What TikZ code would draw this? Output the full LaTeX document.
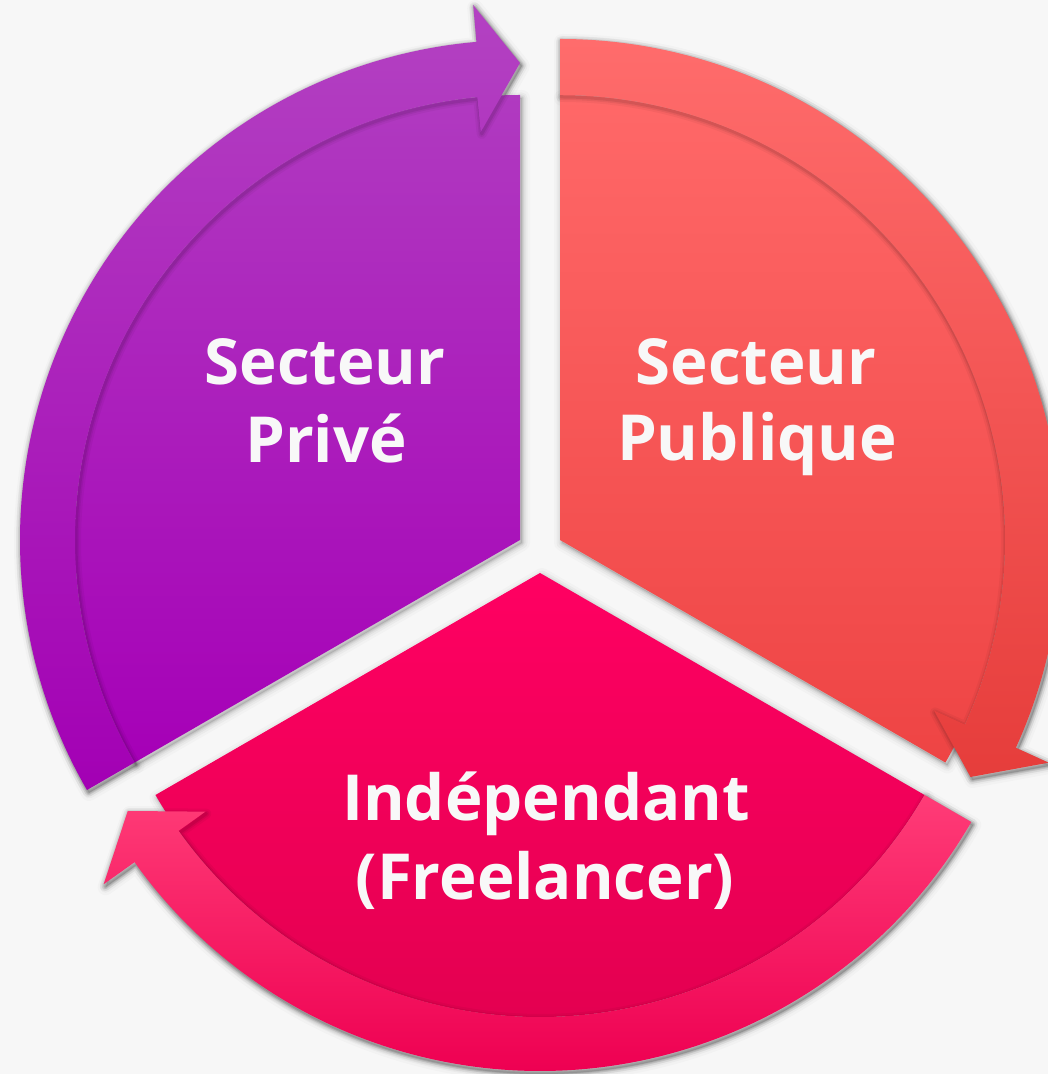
\documentclass[tikz,border=0pt]{standalone}
\usepackage{fontspec}
\setmainfont{Open Sans}
\definecolor{bgcol}{HTML}{F7F7F7}
\definecolor{txtcol}{HTML}{F8F8F8}
\definecolor{purTop}{HTML}{B342C2}
\definecolor{purBot}{HTML}{A300B4}
\definecolor{purWTop}{HTML}{B03AC0}
\definecolor{purWBot}{HTML}{A600B7}
\definecolor{redTop}{HTML}{FF6C6C}
\definecolor{redBot}{HTML}{E63D3B}
\definecolor{redWTop}{HTML}{FF6868}
\definecolor{redWBot}{HTML}{EE4444}
\definecolor{pinkWTop}{HTML}{FF0062}
\definecolor{pinkWBot}{HTML}{E0004E}
\definecolor{pinkBTop}{HTML}{FF3C77}
\definecolor{pinkBBot}{HTML}{EE0052}

\tikzset{
  lbl/.style={text=txtcol, font=\fontsize{63.5}{76}\selectfont\bfseries, anchor=base, inner sep=0pt},
}

% soft drop shadow of a path
\newcommand\softshadow[1]{%
  \fill[black, fill opacity=0.10, shift={(2,-3)}] #1;
  \foreach \w/\o in {16/0.02,11/0.03,7/0.04,4/0.05,2/0.06}{%
    \draw[shift={(2,-3)}, line width=\w, draw=black, draw opacity=\o, line join=round] #1;
  }%
}

% paths (relative to each apex)
\def\pwedge{(0,0) -- (90:445) arc[start angle=90,end angle=210,radius=445] -- cycle}
\def\pband{(210:500) arc[start angle=210,end angle=95,radius=500] -- (95:537) -- (90:477) -- (95.5:410) -- (95.5:445) arc[start angle=95.5,end angle=210,radius=445] -- cycle}

\def\rwedge{(0,0) -- (90:445) arc[start angle=90,end angle=-30,radius=445] -- cycle}
\def\rband{(90:501) arc[start angle=90,end angle=-24.5,radius=501] -- (-24.5:537) -- (-30:474) -- (-24.5:411) -- (-24.5:445) arc[start angle=-24.5,end angle=90,radius=445] -- cycle}

\def\kwedge{(0,0) -- (-30:444) arc[start angle=-30,end angle=-150,radius=444] -- cycle}
\def\kband{(-30:498) arc[start angle=-30,end angle=-144.5,radius=498] -- (-144.5:536) -- (-150:476) -- (-144.5:411) -- (-144.5:444) arc[start angle=-144.5,end angle=-30,radius=444] -- cycle}

\begin{document}
\begin{tikzpicture}[x=1pt,y=1pt]
\useasboundingbox (0,0) rectangle (1048,1074);
\fill[bgcol] (0,0) rectangle (1048,1074);

% ---------- purple: Secteur Prive ----------
\begin{scope}[shift={(520,534)}]
  \softshadow{\pwedge}
  \softshadow{\pband}
  \path[top color=purWTop, bottom color=purWBot] \pwedge;
  \foreach \w/\o in {10/0.04,6/0.06,3/0.08}{%
    \draw[shift={(1,-2)}, line width=\w, draw=black, draw opacity=\o, line join=round] \pband;
  }
  \path[top color=purTop, bottom color=purBot] \pband;
\end{scope}

% ---------- red: Secteur Publique ----------
\begin{scope}[shift={(560,534)}]
  \softshadow{\rwedge}
  \softshadow{\rband}
  \path[top color=redWTop, bottom color=redWBot] \rwedge;
  \foreach \w/\o in {10/0.04,6/0.06,3/0.08}{%
    \draw[shift={(1,-2)}, line width=\w, draw=black, draw opacity=\o, line join=round] \rband;
  }
  \path[top color=redTop, bottom color=redBot] \rband;
\end{scope}

% ---------- pink: Independant ----------
\begin{scope}[shift={(540,501)}]
  \softshadow{\kwedge}
  \softshadow{\kband}
  \path[top color=pinkWTop, bottom color=pinkWBot] \kwedge;
  \foreach \w/\o in {10/0.04,6/0.06,3/0.08}{%
    \draw[shift={(1,-2)}, line width=\w, draw=black, draw opacity=\o, line join=round] \kband;
  }
  \path[top color=pinkBTop, bottom color=pinkBBot] \kband;
\end{scope}

% ---------- labels ----------
\node[lbl] (priv1) at (325,689) {Secteur};
\node[lbl] (priv2) at (326,611) {Privé};
\node[lbl] (pub1) at (756,689) {Secteur};
\node[lbl] (pub2) at (757,613) {Publique};
\node[lbl] (ind1) at (546,253) {Indépendant};
\node[lbl] (ind2) at (545,174) {(Freelancer)};
\end{tikzpicture}
\end{document}
